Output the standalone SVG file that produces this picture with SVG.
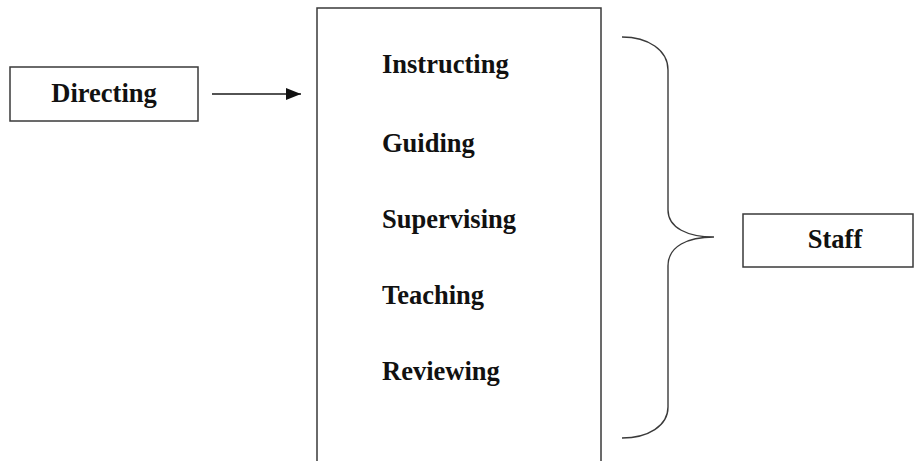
<svg xmlns="http://www.w3.org/2000/svg" width="915" height="461" viewBox="0 0 915 461">
  <style>
    .box { fill: #ffffff; stroke: #3a3a3a; stroke-width: 1.5; }
    .lbl { font-family: "Liberation Serif", "Times New Roman", serif; font-weight: bold; font-size: 26.5px; fill: #111111; }
    .conn { fill: none; stroke: #1a1a1a; stroke-width: 1.6; }
    .brace { fill: none; stroke: #3a3a3a; stroke-width: 1.4; }
  </style>
  <defs>
    <marker id="arrowhead" markerWidth="15" markerHeight="12" refX="15" refY="6" orient="auto" markerUnits="userSpaceOnUse">
      <polygon points="0,0 15,6 0,12" fill="#111111"/>
    </marker>
  </defs>
  <rect width="915" height="461" fill="#ffffff"/>

  <!-- Directing -->
  <g id="directing">
    <rect class="box" x="10" y="67" width="188" height="54"/>
    <text class="lbl" x="104" y="102" text-anchor="middle">Directing</text>
  </g>

  <!-- Activities list (box runs off the bottom edge) -->
  <g id="activities">
    <rect class="box" x="317" y="8" width="284" height="470"/>
    <text class="lbl" x="382" y="73">Instructing</text>
    <text class="lbl" x="382" y="152">Guiding</text>
    <text class="lbl" x="382" y="228">Supervising</text>
    <text class="lbl" x="382" y="304">Teaching</text>
    <text class="lbl" x="382" y="380">Reviewing</text>
  </g>

  <!-- Staff -->
  <g id="staff">
    <rect class="box" x="743" y="214" width="170" height="53"/>
    <text class="lbl" x="835" y="248" text-anchor="middle">Staff</text>
  </g>

  <!-- Connectors -->
  <g id="connectors">
    <line class="conn" x1="212" y1="94" x2="301" y2="94" marker-end="url(#arrowhead)"/>
    <path class="brace" d="M622,37 C648,37 668,50 668,70 L668,210 C668,228 688,237 714,237 C688,237 668,246 668,266 L668,407 C668,426 648,438 622,438"/>
  </g>
</svg>
